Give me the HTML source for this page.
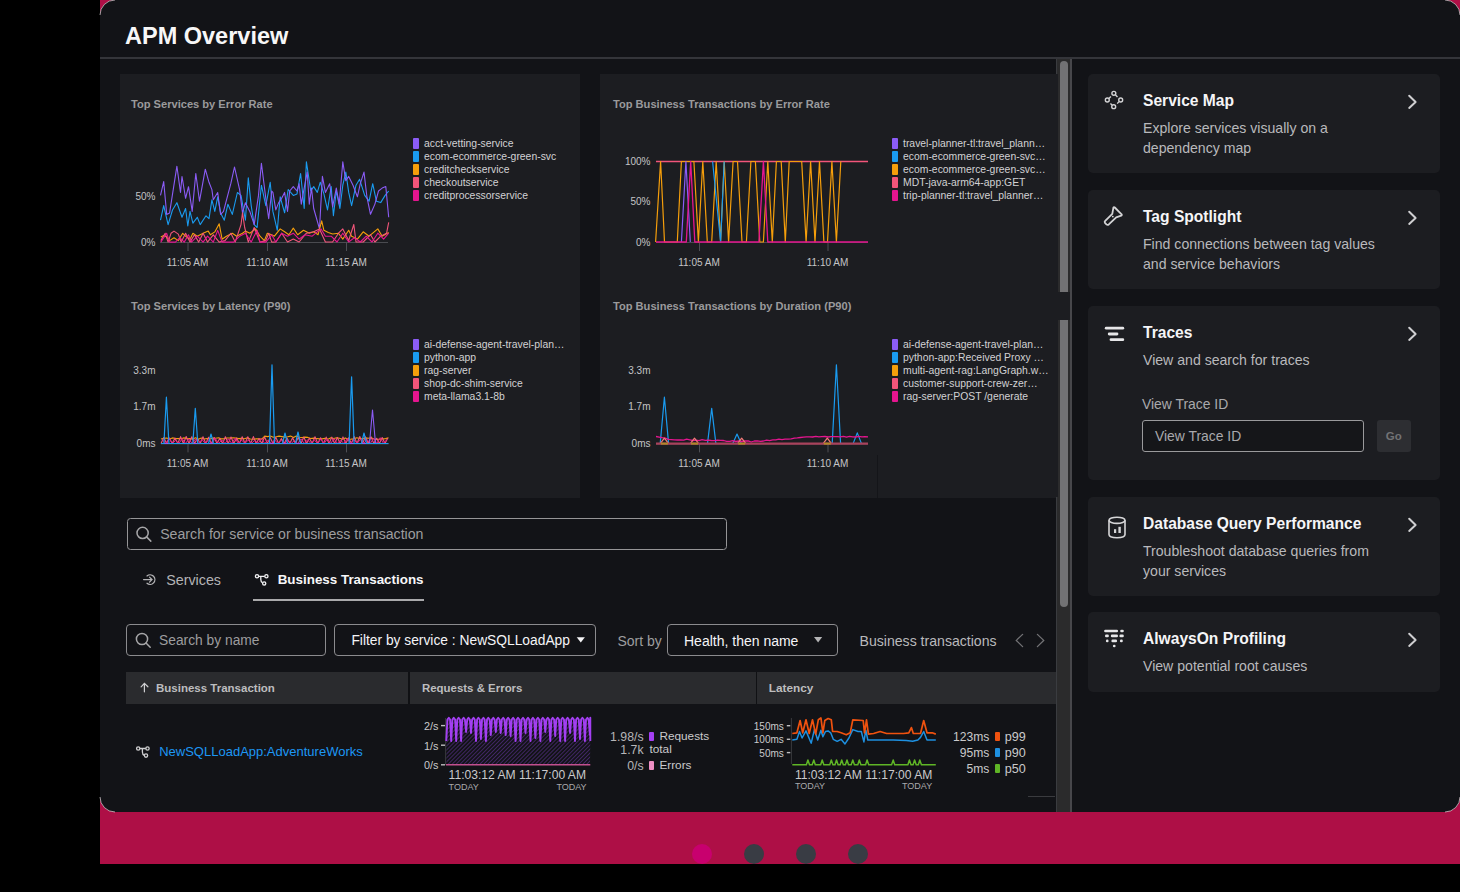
<!DOCTYPE html>
<html><head><meta charset="utf-8"><style>
html,body{margin:0;padding:0;background:#000;width:1460px;height:892px;overflow:hidden;position:relative;font-family:"Liberation Sans",sans-serif;}
.t{position:absolute;white-space:nowrap;line-height:1;}
</style></head><body>
<div style="position:absolute;left:100px;top:0px;width:1360px;height:864px;background:#ae0f46;"></div><div style="position:absolute;left:100px;top:0px;width:1360px;height:812px;background:#121317;border-radius:15px;"></div><div class="t" style="top:25.41px;font-size:23.5px;color:#f7f7f7;font-weight:700;left:125px;">APM Overview</div><div style="position:absolute;left:100px;top:57px;width:1360px;height:2px;background:#34353a;"></div><div style="position:absolute;left:120px;top:74px;width:460px;height:423.6px;background:#1c1d21;"></div><div style="position:absolute;left:600px;top:74px;width:458px;height:423.6px;background:#1c1d21;"></div><div class="t" style="top:99.20px;font-size:11.1px;color:#9a9a9c;font-weight:700;left:131px;">Top Services by Error Rate</div><div class="t" style="top:257.84px;font-size:10px;color:#c4c4c6;left:37.5px;width:300px;text-align:center;">11:05 AM</div><div class="t" style="top:257.84px;font-size:10px;color:#c4c4c6;left:117px;width:300px;text-align:center;">11:10 AM</div><div class="t" style="top:257.84px;font-size:10px;color:#c4c4c6;left:196px;width:300px;text-align:center;">11:15 AM</div><div class="t" style="top:191.94px;font-size:10px;color:#c4c4c6;right:1304.5px;text-align:right;">50%</div><div class="t" style="top:237.94px;font-size:10px;color:#c4c4c6;right:1304.5px;text-align:right;">0%</div><div style="position:absolute;left:413px;top:138.0px;width:6px;height:11px;background:#8b5cf6;border-radius:1px;"></div><div class="t" style="top:138.50px;font-size:10.4px;color:#d2d2d4;left:424px;">acct-vetting-service</div><div style="position:absolute;left:413px;top:151.0px;width:6px;height:11px;background:#1a9bf0;border-radius:1px;"></div><div class="t" style="top:151.50px;font-size:10.4px;color:#d2d2d4;left:424px;">ecom-ecommerce-green-svc</div><div style="position:absolute;left:413px;top:164.0px;width:6px;height:11px;background:#f59e0b;border-radius:1px;"></div><div class="t" style="top:164.50px;font-size:10.4px;color:#d2d2d4;left:424px;">creditcheckservice</div><div style="position:absolute;left:413px;top:177.0px;width:6px;height:11px;background:#f2557a;border-radius:1px;"></div><div class="t" style="top:177.50px;font-size:10.4px;color:#d2d2d4;left:424px;">checkoutservice</div><div style="position:absolute;left:413px;top:190.0px;width:6px;height:11px;background:#e5158f;border-radius:1px;"></div><div class="t" style="top:190.50px;font-size:10.4px;color:#d2d2d4;left:424px;">creditprocessorservice</div><div class="t" style="top:99.20px;font-size:11.1px;color:#9a9a9c;font-weight:700;left:613px;">Top Business Transactions by Error Rate</div><div class="t" style="top:257.84px;font-size:10px;color:#c4c4c6;left:549px;width:300px;text-align:center;">11:05 AM</div><div class="t" style="top:257.84px;font-size:10px;color:#c4c4c6;left:677.5px;width:300px;text-align:center;">11:10 AM</div><div class="t" style="top:156.94px;font-size:10px;color:#c4c4c6;right:809.5px;text-align:right;">100%</div><div class="t" style="top:197.44px;font-size:10px;color:#c4c4c6;right:809.5px;text-align:right;">50%</div><div class="t" style="top:237.94px;font-size:10px;color:#c4c4c6;right:809.5px;text-align:right;">0%</div><div style="position:absolute;left:892px;top:138.0px;width:6px;height:11px;background:#8b5cf6;border-radius:1px;"></div><div class="t" style="top:138.50px;font-size:10.4px;color:#d2d2d4;left:903px;">travel-planner-tl:travel_plann…</div><div style="position:absolute;left:892px;top:151.0px;width:6px;height:11px;background:#1a9bf0;border-radius:1px;"></div><div class="t" style="top:151.50px;font-size:10.4px;color:#d2d2d4;left:903px;">ecom-ecommerce-green-svc…</div><div style="position:absolute;left:892px;top:164.0px;width:6px;height:11px;background:#f59e0b;border-radius:1px;"></div><div class="t" style="top:164.50px;font-size:10.4px;color:#d2d2d4;left:903px;">ecom-ecommerce-green-svc…</div><div style="position:absolute;left:892px;top:177.0px;width:6px;height:11px;background:#f2557a;border-radius:1px;"></div><div class="t" style="top:177.50px;font-size:10.4px;color:#d2d2d4;left:903px;">MDT-java-arm64-app:GET</div><div style="position:absolute;left:892px;top:190.0px;width:6px;height:11px;background:#e5158f;border-radius:1px;"></div><div class="t" style="top:190.50px;font-size:10.4px;color:#d2d2d4;left:903px;">trip-planner-tl:travel_planner…</div><div class="t" style="top:300.50px;font-size:11.1px;color:#9a9a9c;font-weight:700;left:131px;">Top Services by Latency (P90)</div><div class="t" style="top:459.24px;font-size:10px;color:#c4c4c6;left:37.5px;width:300px;text-align:center;">11:05 AM</div><div class="t" style="top:459.24px;font-size:10px;color:#c4c4c6;left:117px;width:300px;text-align:center;">11:10 AM</div><div class="t" style="top:459.24px;font-size:10px;color:#c4c4c6;left:196px;width:300px;text-align:center;">11:15 AM</div><div class="t" style="top:365.54px;font-size:10px;color:#c4c4c6;right:1304.5px;text-align:right;">3.3m</div><div class="t" style="top:402.44px;font-size:10px;color:#c4c4c6;right:1304.5px;text-align:right;">1.7m</div><div class="t" style="top:439.34px;font-size:10px;color:#c4c4c6;right:1304.5px;text-align:right;">0ms</div><div style="position:absolute;left:413px;top:339.3px;width:6px;height:11px;background:#8b5cf6;border-radius:1px;"></div><div class="t" style="top:339.80px;font-size:10.4px;color:#d2d2d4;left:424px;">ai-defense-agent-travel-plan…</div><div style="position:absolute;left:413px;top:352.3px;width:6px;height:11px;background:#1a9bf0;border-radius:1px;"></div><div class="t" style="top:352.80px;font-size:10.4px;color:#d2d2d4;left:424px;">python-app</div><div style="position:absolute;left:413px;top:365.3px;width:6px;height:11px;background:#f59e0b;border-radius:1px;"></div><div class="t" style="top:365.80px;font-size:10.4px;color:#d2d2d4;left:424px;">rag-server</div><div style="position:absolute;left:413px;top:378.3px;width:6px;height:11px;background:#f2557a;border-radius:1px;"></div><div class="t" style="top:378.80px;font-size:10.4px;color:#d2d2d4;left:424px;">shop-dc-shim-service</div><div style="position:absolute;left:413px;top:391.3px;width:6px;height:11px;background:#e5158f;border-radius:1px;"></div><div class="t" style="top:391.80px;font-size:10.4px;color:#d2d2d4;left:424px;">meta-llama3.1-8b</div><div class="t" style="top:300.50px;font-size:11.1px;color:#9a9a9c;font-weight:700;left:613px;">Top Business Transactions by Duration (P90)</div><div class="t" style="top:459.24px;font-size:10px;color:#c4c4c6;left:549px;width:300px;text-align:center;">11:05 AM</div><div class="t" style="top:459.24px;font-size:10px;color:#c4c4c6;left:677.5px;width:300px;text-align:center;">11:10 AM</div><div class="t" style="top:365.54px;font-size:10px;color:#c4c4c6;right:809.5px;text-align:right;">3.3m</div><div class="t" style="top:402.44px;font-size:10px;color:#c4c4c6;right:809.5px;text-align:right;">1.7m</div><div class="t" style="top:439.34px;font-size:10px;color:#c4c4c6;right:809.5px;text-align:right;">0ms</div><div style="position:absolute;left:892px;top:339.3px;width:6px;height:11px;background:#8b5cf6;border-radius:1px;"></div><div class="t" style="top:339.80px;font-size:10.4px;color:#d2d2d4;left:903px;">ai-defense-agent-travel-plan…</div><div style="position:absolute;left:892px;top:352.3px;width:6px;height:11px;background:#1a9bf0;border-radius:1px;"></div><div class="t" style="top:352.80px;font-size:10.4px;color:#d2d2d4;left:903px;">python-app:Received Proxy …</div><div style="position:absolute;left:892px;top:365.3px;width:6px;height:11px;background:#f59e0b;border-radius:1px;"></div><div class="t" style="top:365.80px;font-size:10.4px;color:#d2d2d4;left:903px;">multi-agent-rag:LangGraph.w…</div><div style="position:absolute;left:892px;top:378.3px;width:6px;height:11px;background:#f2557a;border-radius:1px;"></div><div class="t" style="top:378.80px;font-size:10.4px;color:#d2d2d4;left:903px;">customer-support-crew-zer…</div><div style="position:absolute;left:892px;top:391.3px;width:6px;height:11px;background:#e5158f;border-radius:1px;"></div><div class="t" style="top:391.80px;font-size:10.4px;color:#d2d2d4;left:903px;">rag-server:POST /generate</div><div style="position:absolute;left:876.5px;top:454.5px;width:1.5px;height:43px;background:#141519;"></div><div style="position:absolute;left:1056px;top:58.7px;width:13.5px;height:753.3px;background:#2b2b2c;"></div><div style="position:absolute;left:1056px;top:58.7px;width:1px;height:753.3px;background:#3a3c40;"></div><div style="position:absolute;left:1056px;top:74px;width:2px;height:423px;background:#1c1d21;"></div><div style="position:absolute;left:1060px;top:61px;width:8px;height:546px;background:#727274;border-radius:4px;"></div><div style="position:absolute;left:1058px;top:292px;width:11.5px;height:28px;background:#1c1d21;"></div><div style="position:absolute;left:1069.7px;top:58.7px;width:2.2px;height:753.3px;background:#47474b;"></div><div style="position:absolute;left:1088px;top:74px;width:352px;height:99px;background:#1c1d21;border-radius:5px;"></div><div class="t" style="top:92.69px;font-size:15.6px;color:#f5f5f7;font-weight:700;left:1143px;">Service Map</div><div class="t" style="top:121.06px;font-size:14.1px;color:#b9b9bc;left:1143px;">Explore services visually on a</div><div class="t" style="top:141.06px;font-size:14.1px;color:#b9b9bc;left:1143px;">dependency map</div><div style="position:absolute;left:1088px;top:190px;width:352px;height:99px;background:#1c1d21;border-radius:5px;"></div><div class="t" style="top:208.69px;font-size:15.6px;color:#f5f5f7;font-weight:700;left:1143px;">Tag Spotlight</div><div class="t" style="top:237.06px;font-size:14.1px;color:#b9b9bc;left:1143px;">Find connections between tag values</div><div class="t" style="top:257.06px;font-size:14.1px;color:#b9b9bc;left:1143px;">and service behaviors</div><div style="position:absolute;left:1088px;top:306px;width:352px;height:174px;background:#1c1d21;border-radius:5px;"></div><div class="t" style="top:324.69px;font-size:15.6px;color:#f5f5f7;font-weight:700;left:1143px;">Traces</div><div class="t" style="top:353.06px;font-size:14.1px;color:#b9b9bc;left:1143px;">View and search for traces</div><div class="t" style="top:397.53px;font-size:13.9px;color:#a9a9ac;left:1142px;">View Trace ID</div><div style="position:absolute;left:1142px;top:420px;width:221.5px;height:32px;background:#151619;border:1px solid #9a9a9c;border-radius:3px;box-sizing:border-box;"></div><div class="t" style="top:430.23px;font-size:13.9px;color:#a9a9ac;left:1155px;">View Trace ID</div><div style="position:absolute;left:1377px;top:420px;width:33.5px;height:32px;background:#2d2e32;border-radius:3px;"></div><div class="t" style="top:431.07px;font-size:11.5px;color:#727275;font-weight:700;left:1243.7px;width:300px;text-align:center;">Go</div><div style="position:absolute;left:1088px;top:497px;width:352px;height:99px;background:#1c1d21;border-radius:5px;"></div><div class="t" style="top:515.69px;font-size:15.6px;color:#f5f5f7;font-weight:700;left:1143px;">Database Query Performance</div><div class="t" style="top:544.06px;font-size:14.1px;color:#b9b9bc;left:1143px;">Troubleshoot database queries from</div><div class="t" style="top:564.06px;font-size:14.1px;color:#b9b9bc;left:1143px;">your services</div><div style="position:absolute;left:1088px;top:612px;width:352px;height:80px;background:#1c1d21;border-radius:5px;"></div><div class="t" style="top:630.69px;font-size:15.6px;color:#f5f5f7;font-weight:700;left:1143px;">AlwaysOn Profiling</div><div class="t" style="top:659.06px;font-size:14.1px;color:#b9b9bc;left:1143px;">View potential root causes</div><div style="position:absolute;left:127px;top:518px;width:600px;height:32px;background:transparent;border:1px solid #959597;border-radius:3.5px;box-sizing:border-box;"></div><div class="t" style="top:527.22px;font-size:14.15px;color:#9d9d9f;left:160.2px;">Search for service or business transaction</div><div class="t" style="top:572.90px;font-size:14.3px;color:#b4b4b6;left:166.2px;">Services</div><div class="t" style="top:573.16px;font-size:13.4px;color:#f7f7f9;font-weight:700;left:277.7px;">Business Transactions</div><div style="position:absolute;left:253.4px;top:598.6px;width:170.4px;height:2.2px;background:#a9a9ab;"></div><div style="position:absolute;left:126.4px;top:624.4px;width:199.4px;height:31.4px;background:transparent;border:1px solid #8b8b8e;border-radius:4px;box-sizing:border-box;"></div><div class="t" style="top:633.82px;font-size:13.8px;color:#9d9d9f;left:159px;">Search by name</div><div style="position:absolute;left:334.3px;top:624.4px;width:261.3px;height:31.4px;background:transparent;border:1px solid #8b8b8e;border-radius:4px;box-sizing:border-box;"></div><div class="t" style="top:633.82px;font-size:13.8px;color:#f5f5f7;left:351.4px;">Filter by service : NewSQLLoadApp</div><div class="t" style="top:633.65px;font-size:14px;color:#9d9d9f;left:617.4px;">Sort by</div><div style="position:absolute;left:667.4px;top:624.4px;width:170.4px;height:31.4px;background:transparent;border:1px solid #8b8b8e;border-radius:4px;box-sizing:border-box;"></div><div class="t" style="top:633.65px;font-size:14px;color:#f5f5f7;left:684px;">Health, then name</div><div class="t" style="top:633.56px;font-size:14.1px;color:#b9b9bc;left:859.5px;">Business transactions</div><div style="position:absolute;left:126px;top:672px;width:930px;height:31.7px;background:#2a2b2e;"></div><div style="position:absolute;left:408px;top:672px;width:1.7px;height:31.7px;background:#101114;"></div><div style="position:absolute;left:755.6px;top:672px;width:1.7px;height:31.7px;background:#101114;"></div><div class="t" style="top:682.87px;font-size:11.5px;color:#bdbdbf;font-weight:700;left:156px;">Business Transaction</div><div class="t" style="top:682.91px;font-size:11.45px;color:#bdbdbf;font-weight:700;left:422px;">Requests &amp; Errors</div><div class="t" style="top:682.61px;font-size:11.8px;color:#bdbdbf;font-weight:700;left:768.8px;">Latency</div><div class="t" style="top:744.60px;font-size:13px;color:#1d97f4;left:159.2px;">NewSQLLoadApp:AdventureWorks</div><div style="position:absolute;left:1028px;top:795.5px;width:27px;height:1px;background:#3a3b3f;"></div><div style="position:absolute;left:692px;top:844px;width:20px;height:20px;background:#c8006e;border-radius:50%;"></div><div style="position:absolute;left:744px;top:844px;width:20px;height:20px;background:#393c44;border-radius:50%;"></div><div style="position:absolute;left:796px;top:844px;width:20px;height:20px;background:#393c44;border-radius:50%;"></div><div style="position:absolute;left:848px;top:844px;width:20px;height:20px;background:#393c44;border-radius:50%;"></div><div class="t" style="top:721.06px;font-size:10.8px;color:#cacacc;right:1021.5px;text-align:right;">2/s</div><div class="t" style="top:740.66px;font-size:10.8px;color:#cacacc;right:1021.5px;text-align:right;">1/s</div><div class="t" style="top:760.26px;font-size:10.8px;color:#cacacc;right:1021.5px;text-align:right;">0/s</div><div class="t" style="top:769.16px;font-size:12.1px;color:#cacacc;left:448.6px;">11:03:12 AM 11:17:00 AM</div><div class="t" style="top:782.68px;font-size:9px;color:#a9a9ac;left:448.6px;">TODAY</div><div class="t" style="top:782.68px;font-size:9px;color:#a9a9ac;right:873.4px;text-align:right;">TODAY</div><div class="t" style="top:730.99px;font-size:12.3px;color:#b6b6b8;right:816.4px;text-align:right;">1.98/s</div><div style="position:absolute;left:649px;top:732.4px;width:5.2px;height:8.3px;background:#a33ff2;border-radius:1px;"></div><div class="t" style="top:731.41px;font-size:11.8px;color:#cacacc;left:659.4px;">Requests</div><div class="t" style="top:743.99px;font-size:12.3px;color:#b6b6b8;right:816.4px;text-align:right;">1.7k</div><div class="t" style="top:744.41px;font-size:11.8px;color:#cacacc;left:649.5px;">total</div><div class="t" style="top:759.99px;font-size:12.3px;color:#b6b6b8;right:816.4px;text-align:right;">0/s</div><div style="position:absolute;left:649px;top:761.3px;width:5.2px;height:8.4px;background:#ee8fc4;border-radius:1px;"></div><div class="t" style="top:760.41px;font-size:11.8px;color:#cacacc;left:659.4px;">Errors</div><div class="t" style="top:721.63px;font-size:10px;color:#cacacc;right:676.2px;text-align:right;">150ms</div><div class="t" style="top:735.23px;font-size:10px;color:#cacacc;right:676.2px;text-align:right;">100ms</div><div class="t" style="top:748.53px;font-size:10px;color:#cacacc;right:676.2px;text-align:right;">50ms</div><div class="t" style="top:768.96px;font-size:12.1px;color:#cacacc;left:794.9px;">11:03:12 AM 11:17:00 AM</div><div class="t" style="top:781.98px;font-size:9px;color:#a9a9ac;left:794.9px;">TODAY</div><div class="t" style="top:781.98px;font-size:9px;color:#a9a9ac;right:527.8px;text-align:right;">TODAY</div><div class="t" style="top:731.06px;font-size:12.1px;color:#cacacc;right:470.6px;text-align:right;">123ms</div><div style="position:absolute;left:995px;top:732.0px;width:5px;height:8.5px;background:#f0520f;border-radius:1px;"></div><div class="t" style="top:730.63px;font-size:12.6px;color:#cacacc;left:1004.8px;">p99</div><div class="t" style="top:747.06px;font-size:12.1px;color:#cacacc;right:470.6px;text-align:right;">95ms</div><div style="position:absolute;left:995px;top:748.0px;width:5px;height:8.5px;background:#1e90e0;border-radius:1px;"></div><div class="t" style="top:746.63px;font-size:12.6px;color:#cacacc;left:1004.8px;">p90</div><div class="t" style="top:763.06px;font-size:12.1px;color:#cacacc;right:470.6px;text-align:right;">5ms</div><div style="position:absolute;left:995px;top:764.0px;width:5px;height:8.5px;background:#5fb526;border-radius:1px;"></div><div class="t" style="top:762.63px;font-size:12.6px;color:#cacacc;left:1004.8px;">p50</div>
<svg width="1460" height="892" style="position:absolute;left:0;top:0"><line x1="160" y1="242.5" x2="388" y2="242.5" stroke="#4a4b50" stroke-width="1"/><line x1="188.0" y1="242" x2="188.0" y2="251" stroke="#4e4f54" stroke-width="1"/><line x1="267.5" y1="242" x2="267.5" y2="251" stroke="#4e4f54" stroke-width="1"/><line x1="346.5" y1="242" x2="346.5" y2="251" stroke="#4e4f54" stroke-width="1"/><line x1="656" y1="242.5" x2="868" y2="242.5" stroke="#4a4b50" stroke-width="1"/><line x1="699.5" y1="242" x2="699.5" y2="251" stroke="#4e4f54" stroke-width="1"/><line x1="828.0" y1="242" x2="828.0" y2="251" stroke="#4e4f54" stroke-width="1"/><line x1="161" y1="443.9" x2="388.5" y2="443.9" stroke="#4a4b50" stroke-width="1"/><line x1="188.0" y1="443.4" x2="188.0" y2="452.4" stroke="#4e4f54" stroke-width="1"/><line x1="267.5" y1="443.4" x2="267.5" y2="452.4" stroke="#4e4f54" stroke-width="1"/><line x1="346.5" y1="443.4" x2="346.5" y2="452.4" stroke="#4e4f54" stroke-width="1"/><line x1="656" y1="443.9" x2="868" y2="443.9" stroke="#4a4b50" stroke-width="1"/><line x1="699.5" y1="443.4" x2="699.5" y2="452.4" stroke="#4e4f54" stroke-width="1"/><line x1="828.0" y1="443.4" x2="828.0" y2="452.4" stroke="#4e4f54" stroke-width="1"/><path d="M160.5 220.2 L163.7 205.6 L168.1 224.6 L172.5 210.0 L176.9 202.7 L182.0 217.3 L185.6 208.5 L187.8 226.0 L190.0 211.4 L192.9 223.1 L197.3 217.3 L200.2 224.6 L206.0 215.8 L209.0 218.7 L211.9 199.8 L214.8 211.4 L217.7 196.9 L220.6 212.9 L224.3 220.2 L227.9 204.2 L232.3 214.4 L237.4 192.5 L241.0 195.4 L245.4 220.2 L248.3 177.9 L251.2 205.6 L254.2 224.6 L257.1 227.5 L261.4 185.2 L265.8 205.6 L270.2 182.3 L272.9 211.4 L277.3 230.3 L280.2 196.8 L284.6 212.8 L288.2 189.5 L293.3 195.4 L297.0 193.9 L300.6 173.5 L304.2 208.5 L306.4 161.9 L310.8 191.0 L313.7 186.6 L317.3 192.4 L320.3 182.2 L323.9 193.9 L327.5 209.9 L331.2 186.6 L333.4 215.8 L336.3 191.0 L339.9 208.5 L342.8 185.2 L345.8 172.1 L348.7 192.4 L351.6 205.6 L356.0 185.2 L359.6 179.3 L364.7 195.4 L369.1 201.2 L372.7 183.7 L376.4 201.2 L380.7 202.6 L385.1 195.4 L388.7 191.0" fill="none" stroke="#1a9bf0" stroke-width="1.1" stroke-linejoin="round" /><path d="M160.5 195.4 L163.7 181.6 L166.7 214.4 L169.6 212.9 L176.9 166.2 L180.5 192.5 L182.0 176.5 L185.6 198.3 L188.5 186.7 L192.2 211.4 L195.8 173.5 L199.5 201.2 L205.3 169.2 L209.0 182.3 L211.9 189.6 L213.3 199.8 L217.7 192.5 L220.6 214.4 L223.5 211.4 L230.8 183.7 L234.5 167.0 L239.6 189.6 L242.5 212.9 L245.4 202.7 L249.8 211.4 L254.2 224.6 L258.5 195.4 L261.4 163.3 L265.8 198.3 L268.7 218.7 L271.7 191.0 L272.9 192.4 L275.8 209.9 L278.7 202.6 L281.7 198.3 L284.6 192.4 L287.5 211.4 L289.7 191.0 L293.3 186.6 L297.0 191.0 L299.1 183.7 L301.3 204.1 L305.0 183.7 L307.2 172.1 L309.3 204.1 L311.5 188.1 L313.7 208.5 L319.5 228.9 L322.4 176.4 L325.4 192.4 L329.7 183.7 L332.6 207.0 L336.3 188.1 L339.2 204.1 L342.8 161.9 L345.8 180.8 L348.7 176.4 L353.0 185.2 L357.4 196.8 L360.3 183.7 L364.0 172.1 L366.9 196.8 L370.5 214.3 L374.9 204.1 L378.5 191.0 L382.2 188.1 L385.8 186.6 L388.7 217.2" fill="none" stroke="#8b5cf6" stroke-width="1.1" stroke-linejoin="round" /><path d="M160.8 237.0 L163.7 235.5 L166.7 237.0 L169.6 240.6 L174.0 237.7 L178.3 240.6 L182.7 233.3 L185.6 236.2 L190.0 239.2 L192.9 233.3 L197.3 236.2 L203.1 233.3 L208.2 231.1 L210.4 234.8 L214.8 231.9 L219.2 223.8 L222.1 239.2 L226.4 236.2 L232.3 233.3 L236.7 236.2 L242.5 233.3 L245.4 231.1 L249.8 233.3 L255.6 228.9 L260.0 236.2 L264.4 240.6 L267.3 233.3 L271.7 234.8 L274.4 236.2 L280.2 228.9 L284.6 231.8 L288.9 234.7 L293.3 228.1 L297.7 234.7 L303.5 230.3 L309.3 233.2 L313.7 231.8 L318.1 234.7 L321.7 220.9 L323.9 230.3 L328.3 232.5 L332.6 234.0 L338.5 233.2 L342.8 239.1 L348.7 230.3 L351.6 236.2 L357.4 239.1 L363.2 231.8 L369.1 236.2 L377.8 228.9 L382.2 236.2 L388.7 232.5" fill="none" stroke="#f59e0b" stroke-width="1.1" stroke-linejoin="round" /><path d="M160.8 240.6 L165.2 233.3 L168.1 242.1 L171.0 233.3 L174.0 231.1 L178.3 234.1 L181.2 242.1 L185.6 233.3 L190.0 242.1 L194.4 234.8 L198.7 242.1 L203.1 233.3 L207.5 242.1 L213.3 234.8 L219.2 242.1 L225.0 240.6 L230.8 233.3 L235.2 242.1 L241.0 224.6 L242.5 212.9 L244.7 227.5 L248.3 242.1 L254.2 227.5 L260.0 242.1 L265.8 240.6 L268.7 233.3 L271.7 242.1 L275.8 242.0 L281.7 233.2 L287.5 242.0 L293.3 239.1 L299.1 242.0 L306.4 233.2 L313.7 231.8 L319.5 228.9 L325.4 242.0 L332.6 242.0 L338.5 233.2 L342.8 228.9 L348.7 240.5 L353.8 224.5 L356.0 242.0 L363.2 242.0 L370.5 234.7 L374.9 242.0 L380.7 236.2 L386.6 233.2 L388.7 222.3" fill="none" stroke="#f2557a" stroke-width="1.1" stroke-linejoin="round" /><path d="M160.8 242.1 L166.7 233.3 L169.6 242.1 L175.4 242.1 L179.8 237.7 L184.2 242.1 L188.5 234.8 L191.5 242.1 L197.3 236.2 L203.1 242.1 L207.5 236.2 L213.3 242.1 L217.7 230.4 L222.1 242.1 L227.9 242.1 L233.7 242.1 L239.6 236.2 L245.4 233.3 L251.2 242.1 L257.1 230.4 L260.0 242.1 L265.8 242.1 L271.7 234.8 L275.8 242.0 L281.7 233.2 L287.5 236.2 L293.3 233.2 L299.1 239.1 L305.0 234.7 L312.2 236.2 L321.0 228.9 L325.4 236.2 L331.2 236.2 L337.0 242.0 L342.8 233.2 L348.7 242.0 L354.5 237.6 L360.3 242.0 L366.2 236.2 L372.0 242.0 L377.8 233.2 L383.6 239.1 L388.7 233.2" fill="none" stroke="#e5158f" stroke-width="1.1" stroke-linejoin="round" /><line x1="656" y1="161.5" x2="868" y2="161.5" stroke="#f2557a" stroke-width="1.3"/><path d="M655.6 242.0 L660.6 161.5 L664.5 242.0 L677.3 242.0 L681.4 161.5 L693.9 161.5 L698.4 242.0 L702.8 161.5 L707.3 242.0 L711.7 242.0 L716.2 161.5 L720.6 242.0 L724.2 161.5 L728.6 242.0 L733.1 161.5 L737.5 161.5 L742.0 242.0 L746.4 242.0 L750.9 161.5 L755.4 161.5 L759.8 242.0 L763.4 242.0 L767.8 161.5 L772.3 242.0 L776.4 161.5 L781.2 161.5 L785.3 242.0 L789.2 161.5 L801.7 161.5 L806.1 242.0 L810.6 161.5 L815.0 242.0 L819.5 161.5 L823.9 242.0 L827.5 242.0 L831.9 161.5 L836.4 242.0 L840.8 161.5" fill="none" stroke="#f59e0b" stroke-width="1.2" stroke-linejoin="round" /><path d="M681.4 242.0 L685.9 161.5 L690.3 242.0" fill="none" stroke="#8b5cf6" stroke-width="1.2" stroke-linejoin="round" /><path d="M712.6 161.5 L720.6 242.0 L724.2 161.5" fill="none" stroke="#1a9bf0" stroke-width="1.2" stroke-linejoin="round" /><path d="M656.0 242.0 L686.3 242.0 L690.7 161.5 L694.8 242.0 L758.9 242.0 L763.4 161.5 L767.8 242.0 L868.0 242.0" fill="none" stroke="#e5158f" stroke-width="1.3" stroke-linejoin="round" /><path d="M161.0 439.0 L163.9 438.2 L166.8 438.1 L169.6 439.0 L172.5 437.9 L175.4 438.5 L178.3 438.6 L181.2 438.7 L184.0 437.9 L186.9 438.7 L189.8 438.5 L192.7 439.1 L195.6 437.7 L198.4 439.2 L201.3 438.0 L204.2 439.0 L207.1 438.5 L210.0 439.0 L212.8 438.0 L215.7 438.2 L218.6 437.8 L221.5 438.9 L224.4 438.6 L227.2 438.0 L230.1 438.0 L233.0 437.8 L235.9 438.0 L238.8 438.6 L241.6 438.4 L244.5 438.8 L247.4 437.8 L250.3 439.0 L253.2 439.3 L256.0 438.9 L258.9 438.9 L261.8 439.1 L264.7 436.1 L267.6 436.6 L270.4 436.0 L273.3 437.2 L276.2 436.8 L279.1 436.1 L281.9 436.6 L284.8 437.1 L287.7 436.8 L290.6 436.1 L293.5 437.4 L296.3 436.0 L299.2 437.2 L302.1 437.5 L305.0 437.1 L307.9 437.4 L310.7 438.5 L313.6 438.1 L316.5 438.5 L319.4 438.9 L322.3 438.9 L325.1 438.3 L328.0 439.2 L330.9 437.8 L333.8 438.5 L336.7 437.8 L339.5 438.3 L342.4 439.3 L345.3 437.9 L348.2 439.3 L351.1 439.1 L353.9 438.8 L356.8 437.8 L359.7 438.5 L362.6 438.8 L365.5 437.9 L368.3 438.2 L371.2 437.8 L374.1 439.0 L377.0 439.2 L379.9 439.2 L382.7 438.9 L385.6 438.6 L388.5 437.8" fill="none" stroke="#f59e0b" stroke-width="1.1" stroke-linejoin="round" /><path d="M161.0 443.5 L163.8 437.5 L166.6 443.5 L169.4 438.0 L172.2 443.5 L175.0 438.0 L177.8 443.5 L180.6 436.6 L183.4 443.5 L186.2 436.5 L189.0 443.5 L191.8 436.7 L194.6 443.5 L197.4 438.3 L200.2 443.5 L203.0 436.7 L205.8 443.5 L208.6 437.3 L211.4 443.5 L214.2 437.5 L217.0 443.5 L219.8 438.3 L222.6 443.5 L225.4 436.8 L228.2 443.5 L231.0 437.0 L233.8 443.5 L236.6 438.0 L239.4 443.5 L242.2 436.7 L245.0 443.5 L247.8 436.8 L250.6 443.5 L253.4 436.6 L256.2 443.5 L259.0 438.4 L261.8 443.5 L264.6 437.0 L267.4 443.5 L270.2 437.5 L273.0 443.5 L275.8 437.3 L278.6 443.5 L281.4 438.5 L284.2 443.5 L287.0 437.9 L289.8 443.5 L292.6 437.7 L295.4 443.5 L298.2 437.5 L301.0 443.5 L303.8 437.0 L306.6 443.5 L309.4 438.2 L312.2 443.5 L315.0 436.7 L317.8 443.5 L320.6 437.7 L323.4 443.5 L326.2 437.1 L329.0 443.5 L331.8 437.1 L334.6 443.5 L337.4 437.4 L340.2 443.5 L343.0 436.9 L345.8 443.5 L348.6 437.7 L351.4 443.5 L354.2 436.6 L357.0 443.5 L359.8 436.5 L362.6 443.5 L365.4 436.8 L368.2 443.5 L371.0 436.7 L373.8 443.5 L376.6 438.3 L379.4 443.5 L382.2 437.5 L385.0 443.5 L387.8 437.9" fill="none" stroke="#f2557a" stroke-width="1.1" stroke-linejoin="round" /><path d="M162.4 439.8 L165.7 443.5 L169.0 438.0 L172.3 443.5 L175.6 440.4 L178.9 443.5 L182.2 438.7 L185.5 443.5 L188.8 438.9 L192.1 443.5 L195.4 439.0 L198.7 443.5 L202.0 439.6 L205.3 443.5 L208.6 439.8 L211.9 443.5 L215.2 438.1 L218.5 443.5 L221.8 440.0 L225.1 443.5 L228.4 438.8 L231.7 443.5 L235.0 438.3 L238.3 443.5 L241.6 440.1 L244.9 443.5 L248.2 440.1 L251.5 443.5 L254.8 440.1 L258.1 443.5 L261.4 438.5 L264.7 443.5 L268.0 440.2 L271.3 443.5 L274.6 439.8 L277.9 443.5 L281.2 440.4 L284.5 443.5 L287.8 439.8 L291.1 443.5 L294.4 440.5 L297.7 443.5 L301.0 438.9 L304.3 443.5 L307.6 439.7 L310.9 443.5 L314.2 439.8 L317.5 443.5 L320.8 439.1 L324.1 443.5 L327.4 439.0 L330.7 443.5 L334.0 438.7 L337.3 443.5 L340.6 440.1 L343.9 443.5 L347.2 438.6 L350.5 443.5 L353.8 439.7 L357.1 443.5 L360.4 439.2 L363.7 443.5 L367.0 439.6 L370.3 443.5 L373.6 438.4 L376.9 443.5 L380.2 437.7 L383.5 443.5 L386.8 439.5" fill="none" stroke="#e5158f" stroke-width="1.0" stroke-linejoin="round" /><path d="M161.0 443.5 L369.5 443.5 L372.5 410.0 L375.5 443.5" fill="none" stroke="#8b5cf6" stroke-width="1.1" stroke-linejoin="round" /><path d="M161.0 443.5 L163.9 443.5 L166.4 397.2 L168.9 443.5 L192.8 443.5 L195.3 408.3 L197.8 443.5 L208.5 443.5 L211.0 434.0 L213.5 443.5 L269.5 443.5 L272.0 364.8 L274.5 443.5 L282.5 443.5 L285.0 433.0 L287.5 443.5 L295.5 443.5 L298.0 432.0 L300.5 443.5 L349.1 443.5 L351.6 376.8 L354.1 443.5 L361.5 443.5 L364.0 433.0 L366.5 443.5 L388.5 443.5" fill="none" stroke="#1a9bf0" stroke-width="1.2" stroke-linejoin="round" /><path d="M660.2 443.6 L664.4 397.2 L668.6 443.6" fill="none" stroke="#1a9bf0" stroke-width="1.2" stroke-linejoin="round" /><path d="M707.5 443.6 L711.7 408.3 L715.9 443.6" fill="none" stroke="#1a9bf0" stroke-width="1.2" stroke-linejoin="round" /><path d="M732.8 443.6 L737.0 434.0 L741.2 443.6" fill="none" stroke="#1a9bf0" stroke-width="1.2" stroke-linejoin="round" /><path d="M832.2 443.6 L836.4 364.8 L840.6 443.6" fill="none" stroke="#1a9bf0" stroke-width="1.2" stroke-linejoin="round" /><path d="M853.1 443.6 L857.3 432.9 L861.5 443.6" fill="none" stroke="#1a9bf0" stroke-width="1.2" stroke-linejoin="round" /><path d="M656.0 436.5 L659.1 437.1 L662.1 437.7 L665.2 438.2 L668.3 439.4 L671.4 439.6 L674.4 439.8 L677.5 440.0 L680.6 439.9 L683.7 440.2 L686.7 439.2 L689.8 439.8 L692.9 440.5 L695.9 440.2 L699.0 440.6 L702.1 439.7 L705.2 440.3 L708.2 440.1 L711.3 440.5 L714.4 440.6 L717.4 440.1 L720.5 440.4 L723.6 440.5 L726.7 441.4 L729.7 441.3 L732.8 440.7 L735.9 441.5 L739.0 440.8 L742.0 441.5 L745.1 441.0 L748.2 440.9 L751.2 442.0 L754.3 441.0 L757.4 440.8 L760.5 441.3 L763.5 441.0 L766.6 440.1 L769.7 440.6 L772.8 439.9 L775.8 439.8 L778.9 439.1 L782.0 439.6 L785.0 439.2 L788.1 439.2 L791.2 438.9 L794.3 438.1 L797.3 437.9 L800.4 437.5 L803.5 437.2 L806.6 436.9 L809.6 436.9 L812.7 437.0 L815.8 436.3 L818.8 436.8 L821.9 436.6 L825.0 436.5 L828.1 437.0 L831.1 436.7 L834.2 436.6 L837.3 436.7 L840.3 436.9 L843.4 436.3 L846.5 437.1 L849.6 436.3 L852.6 436.9 L855.7 437.0 L858.8 436.3 L861.9 436.9 L864.9 436.6 L868.0 436.8" fill="none" stroke="#e5158f" stroke-width="1.3" stroke-linejoin="round" /><path d="M660.2 443.6 L664.4 438.2 L668.6 443.6" fill="none" stroke="#f47a7a" stroke-width="1.2" stroke-linejoin="round" /><path d="M690.3 443.6 L694.5 438.2 L698.7 443.6" fill="none" stroke="#f47a7a" stroke-width="1.2" stroke-linejoin="round" /><path d="M737.5 443.6 L741.7 438.2 L745.9 443.6" fill="none" stroke="#f47a7a" stroke-width="1.2" stroke-linejoin="round" /><path d="M823.1 443.6 L827.3 438.2 L831.5 443.6" fill="none" stroke="#f47a7a" stroke-width="1.2" stroke-linejoin="round" /><line x1="656" y1="443.6" x2="868" y2="443.6" stroke="#a8425c" stroke-width="2.2"/><line x1="660.9" y1="443.6" x2="667.9" y2="443.6" stroke="#b08a25" stroke-width="2"/><line x1="691.0" y1="443.6" x2="698.0" y2="443.6" stroke="#b08a25" stroke-width="2"/><line x1="738.2" y1="443.6" x2="745.2" y2="443.6" stroke="#b08a25" stroke-width="2"/><line x1="823.8" y1="443.6" x2="830.8" y2="443.6" stroke="#b08a25" stroke-width="2"/><path d="M1409.2 95.7 L1415.6 102 L1409.2 107.9" fill="none" stroke="#cfcfd1" stroke-width="2" stroke-linecap="round" stroke-linejoin="round"/><g fill="none" stroke="#d4d4d6" stroke-width="1.4" stroke-linecap="butt"><circle cx="1113.85" cy="93.3" r="1.95"/><circle cx="1107.3" cy="100" r="1.95"/><circle cx="1120.7" cy="100" r="1.95"/><circle cx="1113.7" cy="106.7" r="1.95"/><path d="M1115.5 94.9 L1117.5 96.9 M1108.9 98.5 L1110.9 96.6 M1119 101.6 L1117.2 103.6 M1112.1 105.1 L1110.4 103.4"/></g><path d="M1409.2 211.7 L1415.6 218 L1409.2 223.9" fill="none" stroke="#cfcfd1" stroke-width="2" stroke-linecap="round" stroke-linejoin="round"/><g fill="none" stroke="#d4d4d6" stroke-width="1.8" stroke-linejoin="round" stroke-linecap="round"><path d="M1113.4 207.6 Q1114 206.8 1114.8 207.5 L1121.6 214.3 Q1122.2 215.2 1121.2 215.7 L1116.2 217.4 L1108.8 224.4 Q1107.5 225.3 1106.4 224.3 L1105 222.9 Q1104.2 221.8 1105.2 220.8 L1112.3 213.8 Z"/><circle cx="1112.8" cy="216.6" r="0.9" fill="#d4d4d6" stroke="none"/></g><path d="M1409.2 327.7 L1415.6 334 L1409.2 339.9" fill="none" stroke="#cfcfd1" stroke-width="2" stroke-linecap="round" stroke-linejoin="round"/><g stroke="#e6e6e8" stroke-width="2.8" stroke-linecap="round"><line x1="1106.2" y1="328.2" x2="1122.8" y2="328.2"/><line x1="1109.2" y1="334" x2="1117" y2="334"/><line x1="1111" y1="339.7" x2="1122.8" y2="339.7"/></g><path d="M1409.2 518.7 L1415.6 525 L1409.2 530.9" fill="none" stroke="#cfcfd1" stroke-width="2" stroke-linecap="round" stroke-linejoin="round"/><g fill="none" stroke="#d6d6d8" stroke-width="1.6"><ellipse cx="1117" cy="520.3" rx="8" ry="3.1"/><path d="M1109 520.3 L1109 534.6 Q1109 537.8 1117 537.8 Q1125 537.8 1125 534.6 L1125 520.3"/></g><rect x="1114" y="529.2" width="2.2" height="3.8" fill="#d6d6d8"/><rect x="1118.4" y="526.8" width="2.4" height="6.2" fill="#d6d6d8"/><path d="M1409.2 633.7 L1415.6 640 L1409.2 645.9" fill="none" stroke="#cfcfd1" stroke-width="2" stroke-linecap="round" stroke-linejoin="round"/><g stroke="#e6e6e8" stroke-width="2.6" stroke-linecap="round"><line x1="1105.4" y1="631" x2="1116.8" y2="631"/><line x1="1121.5" y1="631" x2="1122.5" y2="631"/><line x1="1106.3" y1="635.9" x2="1107.6" y2="635.9"/><line x1="1112.1" y1="635.9" x2="1116.7" y2="635.9"/><line x1="1120.7" y1="635.9" x2="1122.5" y2="635.9"/><line x1="1107.2" y1="640.9" x2="1107.3" y2="640.9"/><line x1="1112.7" y1="640.9" x2="1115.8" y2="640.9"/><line x1="1121.2" y1="640.9" x2="1121.5" y2="640.9"/><line x1="1114.2" y1="646" x2="1114.3" y2="646"/></g><g fill="none" stroke="#a6a6a8" stroke-width="1.5"><circle cx="142.6" cy="532.9" r="5.6"/><line x1="146.6" y1="536.9" x2="150.8" y2="541.1" stroke-linecap="round"/></g><g fill="none" stroke="#b4b4b6" stroke-width="1.3" stroke-linecap="round"><path d="M147 575.9 A4.8 4.8 0 1 1 147 583.3"/><path d="M143.6 579.6 L152 579.6 M149.5 577.1 L152 579.6 L149.5 582.1"/></g><g fill="none" stroke="#f2f2f4" stroke-width="1.3"><circle cx="257" cy="576.3" r="1.6"/><circle cx="266.4" cy="576.3" r="1.6"/><circle cx="264.2" cy="583.4" r="1.6"/><path d="M258.7 576.3 L264.7 576.3 M260.8 576.3 L260.8 579.5 Q260.8 582 262.6 582.9"/></g><g fill="none" stroke="#a6a6a8" stroke-width="1.5"><circle cx="142" cy="639" r="5.6"/><line x1="146" y1="643" x2="150.2" y2="647.2" stroke-linecap="round"/></g><path d="M576.7 637.3 L584.9 637.3 L580.8 642.5 Z" fill="#f5f5f7"/><path d="M814 637.1 L822.2 637.1 L818.1 642.6 Z" fill="#b4b4b6"/><g fill="none" stroke="#737376" stroke-width="1.3" stroke-linecap="round"><path d="M1022.6 634.4 L1016.3 640.4 L1022.6 646.6"/><path d="M1037.4 634.4 L1043.7 640.4 L1037.4 646.6"/></g><g fill="none" stroke="#cfcfd1" stroke-width="1.2" stroke-linecap="round"><path d="M144.4 683.4 L144.4 691.8 M141.1 686.8 L144.4 683.4 L147.9 686.8"/></g><g fill="none" stroke="#cfcfd1" stroke-width="1.3"><circle cx="138.2" cy="748.5" r="1.65"/><circle cx="147.5" cy="748.5" r="1.65"/><circle cx="146" cy="755.6" r="1.65"/><path d="M139.85 748.5 L145.85 748.5 M142.4 748.5 L142.4 752 Q142.4 754.6 144.35 755.4"/></g><line x1="441" y1="725.6" x2="445" y2="725.6" stroke="#bdbdbf" stroke-width="1.4"/><line x1="441" y1="745.2" x2="445" y2="745.2" stroke="#bdbdbf" stroke-width="1.4"/><line x1="441" y1="764.8" x2="445" y2="764.8" stroke="#bdbdbf" stroke-width="1.4"/><line x1="445.6" y1="718" x2="445.6" y2="765" stroke="#3a3a3e" stroke-width="1"/><defs><pattern id="hatch" width="2.8" height="2.8" patternUnits="userSpaceOnUse" patternTransform="rotate(45)"><line x1="0" y1="0" x2="0" y2="2.8" stroke="#6a35a8" stroke-width="1"/></pattern><clipPath id="rclip"><rect x="446" y="715" width="145" height="52"/></clipPath></defs><path d="M446.5 764.8 L446.3 741.0 L447.4 719.5 L448.8 717.8 L450.1 719.5 L451.2 741.0 L452.4 719.5 L453.7 717.8 L455.1 719.5 L456.2 741.0 L457.3 719.5 L458.6 717.8 L460.0 719.5 L461.1 741.0 L462.2 719.5 L463.6 717.8 L464.9 719.5 L466.1 732.0 L467.2 719.5 L468.5 717.8 L469.9 719.5 L471.0 733.0 L472.1 719.5 L473.5 717.8 L474.8 719.5 L476.0 741.0 L477.1 719.5 L478.4 717.8 L479.8 719.5 L480.9 739.0 L482.0 719.5 L483.4 717.8 L484.7 719.5 L485.9 741.0 L487.0 719.5 L488.3 717.8 L489.7 719.5 L490.8 735.0 L491.9 719.5 L493.3 717.8 L494.6 719.5 L495.8 732.0 L496.9 719.5 L498.2 717.8 L499.6 719.5 L500.7 733.0 L501.8 719.5 L503.2 717.8 L504.5 719.5 L505.7 735.0 L506.8 719.5 L508.1 717.8 L509.5 719.5 L510.6 736.0 L511.7 719.5 L513.1 717.8 L514.4 719.5 L515.6 741.0 L516.7 719.5 L518.0 717.8 L519.4 719.5 L520.5 741.0 L521.6 719.5 L523.0 717.8 L524.3 719.5 L525.5 733.0 L526.6 719.5 L528.0 717.8 L529.3 719.5 L530.5 741.0 L531.6 719.5 L532.9 717.8 L534.2 719.5 L535.4 738.0 L536.5 719.5 L537.9 717.8 L539.2 719.5 L540.4 741.0 L541.5 719.5 L542.8 717.8 L544.2 719.5 L545.3 732.0 L546.4 719.5 L547.8 717.8 L549.1 719.5 L550.3 741.0 L551.4 719.5 L552.7 717.8 L554.1 719.5 L555.2 736.0 L556.3 719.5 L557.7 717.8 L559.0 719.5 L560.2 741.0 L561.3 719.5 L562.6 717.8 L564.0 719.5 L565.1 741.0 L566.2 719.5 L567.6 717.8 L568.9 719.5 L570.1 733.0 L571.2 719.5 L572.5 717.8 L573.9 719.5 L575.0 741.0 L576.1 719.5 L577.5 717.8 L578.8 719.5 L580.0 739.0 L581.1 719.5 L582.4 717.8 L583.8 719.5 L584.9 741.0 L586.0 719.5 L587.4 717.8 L588.7 719.5 L589.9 735.0 L590.3 719.5 L590.3 717.8 L590.3 719.5 L590.3 741.0 L590 764.8 Z" fill="url(#hatch)" clip-path="url(#rclip)"/><path d="M446.3 741.0 L447.4 719.5 L448.8 717.8 L450.1 719.5 L451.2 741.0 L452.4 719.5 L453.7 717.8 L455.1 719.5 L456.2 741.0 L457.3 719.5 L458.6 717.8 L460.0 719.5 L461.1 741.0 L462.2 719.5 L463.6 717.8 L464.9 719.5 L466.1 732.0 L467.2 719.5 L468.5 717.8 L469.9 719.5 L471.0 733.0 L472.1 719.5 L473.5 717.8 L474.8 719.5 L476.0 741.0 L477.1 719.5 L478.4 717.8 L479.8 719.5 L480.9 739.0 L482.0 719.5 L483.4 717.8 L484.7 719.5 L485.9 741.0 L487.0 719.5 L488.3 717.8 L489.7 719.5 L490.8 735.0 L491.9 719.5 L493.3 717.8 L494.6 719.5 L495.8 732.0 L496.9 719.5 L498.2 717.8 L499.6 719.5 L500.7 733.0 L501.8 719.5 L503.2 717.8 L504.5 719.5 L505.7 735.0 L506.8 719.5 L508.1 717.8 L509.5 719.5 L510.6 736.0 L511.7 719.5 L513.1 717.8 L514.4 719.5 L515.6 741.0 L516.7 719.5 L518.0 717.8 L519.4 719.5 L520.5 741.0 L521.6 719.5 L523.0 717.8 L524.3 719.5 L525.5 733.0 L526.6 719.5 L528.0 717.8 L529.3 719.5 L530.5 741.0 L531.6 719.5 L532.9 717.8 L534.2 719.5 L535.4 738.0 L536.5 719.5 L537.9 717.8 L539.2 719.5 L540.4 741.0 L541.5 719.5 L542.8 717.8 L544.2 719.5 L545.3 732.0 L546.4 719.5 L547.8 717.8 L549.1 719.5 L550.3 741.0 L551.4 719.5 L552.7 717.8 L554.1 719.5 L555.2 736.0 L556.3 719.5 L557.7 717.8 L559.0 719.5 L560.2 741.0 L561.3 719.5 L562.6 717.8 L564.0 719.5 L565.1 741.0 L566.2 719.5 L567.6 717.8 L568.9 719.5 L570.1 733.0 L571.2 719.5 L572.5 717.8 L573.9 719.5 L575.0 741.0 L576.1 719.5 L577.5 717.8 L578.8 719.5 L580.0 739.0 L581.1 719.5 L582.4 717.8 L583.8 719.5 L584.9 741.0 L586.0 719.5 L587.4 717.8 L588.7 719.5 L589.9 735.0 L590.3 719.5 L590.3 717.8 L590.3 719.5 L590.3 741.0" fill="none" stroke="#a33ff2" stroke-width="1.9" stroke-linejoin="round" /><line x1="446" y1="764.8" x2="590.3" y2="764.8" stroke="#c2508e" stroke-width="1.6"/><line x1="786.8" y1="725.7" x2="790.3" y2="725.7" stroke="#bdbdbf" stroke-width="1.4"/><line x1="786.8" y1="739.3" x2="790.3" y2="739.3" stroke="#bdbdbf" stroke-width="1.4"/><line x1="786.8" y1="752.6" x2="790.3" y2="752.6" stroke="#bdbdbf" stroke-width="1.4"/><line x1="791.4" y1="718" x2="791.4" y2="764" stroke="#3a3a3e" stroke-width="1"/><path d="M792.3 740.0 L796.9 739.3 L799.5 731.5 L802.1 738.0 L806.0 730.9 L811.2 743.2 L814.4 729.6 L817.7 740.0 L820.9 730.2 L822.9 736.7 L825.5 731.5 L828.1 730.9 L830.7 732.8 L833.3 739.3 L837.2 741.3 L841.1 739.3 L845.0 743.9 L848.9 738.0 L852.8 729.6 L858.0 731.5 L861.3 731.5 L863.9 741.9 L865.8 730.2 L867.8 740.0 L880.1 740.0 L893.2 740.0 L906.2 740.6 L912.7 741.3 L917.9 740.0 L920.5 737.4 L923.7 731.5 L927.0 740.0 L935.8 740.0" fill="none" stroke="#1e90e0" stroke-width="1.5" stroke-linejoin="round" /><path d="M792.3 733.5 L796.9 732.8 L800.1 720.5 L802.7 732.8 L806.0 719.8 L809.2 733.5 L812.5 719.8 L815.7 734.1 L818.3 719.8 L820.9 717.9 L822.9 732.8 L824.8 720.5 L828.1 718.5 L831.3 719.8 L832.6 731.5 L837.2 731.5 L841.1 732.8 L846.3 734.8 L850.2 732.8 L852.8 719.8 L863.2 720.5 L864.5 732.8 L866.5 719.8 L868.4 734.1 L873.6 733.5 L880.1 731.5 L886.6 733.5 L893.2 733.5 L903.6 733.5 L908.8 732.8 L911.4 727.6 L913.3 733.5 L920.5 733.5 L923.7 720.5 L927.0 732.8 L932.2 732.8 L935.8 734.1" fill="none" stroke="#f0520f" stroke-width="1.7" stroke-linejoin="round" /><path d="M792.3 764.7 L806.4 764.7 L807.9 759.9 L809.5 764.7 L812.2 764.7 L813.8 759.9 L815.3 764.7 L820.7 764.7 L822.2 759.9 L823.8 764.7 L829.8 764.7 L831.3 759.9 L832.9 764.7 L835.0 764.7 L836.5 759.9 L838.1 764.7 L840.2 764.7 L841.7 759.9 L843.3 764.7 L845.4 764.7 L847.0 759.9 L848.5 764.7 L851.2 764.7 L852.8 759.9 L854.4 764.7 L857.8 764.7 L859.3 759.9 L860.9 764.7 L865.6 764.7 L867.1 759.9 L868.7 764.7 L891.6 764.7 L893.2 759.9 L894.7 764.7 L907.9 764.7 L909.4 759.9 L911.0 764.7 L913.1 764.7 L914.6 759.9 L916.2 764.7 L918.3 764.7 L919.8 759.9 L921.4 764.7 L935.8 764.7" fill="none" stroke="#5fb526" stroke-width="1.5" stroke-linejoin="round" /><g fill="none" stroke="#e0e0e0" stroke-width="0.9" opacity="0.75"><path d="M100 15 A15 15 0 0 1 115 0"/><path d="M1445 0 A15 15 0 0 1 1460 15"/><path d="M100 797 A15 15 0 0 0 115 812"/><path d="M1445 812 A15 15 0 0 0 1460 797"/></g></svg>
</body></html>
